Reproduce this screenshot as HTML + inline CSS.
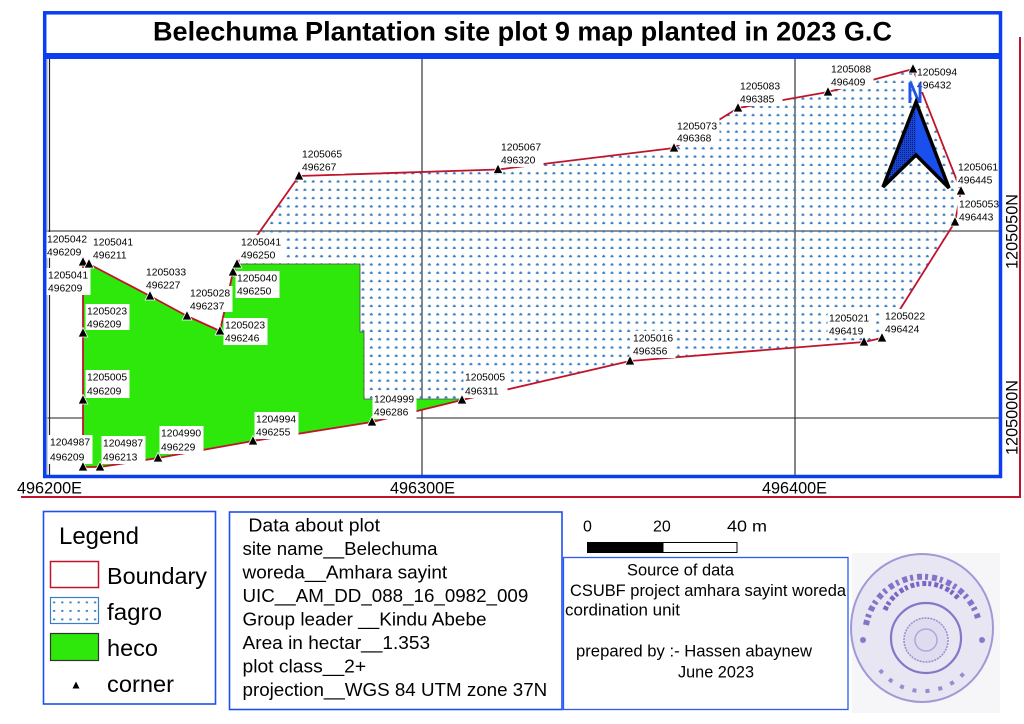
<!DOCTYPE html>
<html>
<head>
<meta charset="utf-8">
<style>
html,body{margin:0;padding:0;background:#fff;}
svg{display:block;}
text{font-family:"Liberation Sans",Arial,sans-serif;}
</style>
</head>
<body>
<svg width="1024" height="724" viewBox="0 0 1024 724" xmlns="http://www.w3.org/2000/svg">
<defs>
  <pattern id="dots" patternUnits="userSpaceOnUse" x="0" y="0" width="8.3" height="8.3">
    <rect x="4.6" y="6.7" width="3" height="1.5" fill="#3a7ec2"/>
    <rect x="5.35" y="5.95" width="1.5" height="3" fill="#3a7ec2"/>
  </pattern>
  <pattern id="ldots" patternUnits="userSpaceOnUse" x="50" y="597" width="8.2" height="8.5">
    <rect x="3" y="4.5" width="2.2" height="1.8" fill="#3a7ec2"/>
  </pattern>
  <pattern id="darkdots" patternUnits="userSpaceOnUse" width="2" height="2">
    <rect width="2" height="2" fill="#1a46d8"/>
    <rect width="1" height="1" fill="#0a1e70"/>
  </pattern>
  <clipPath id="mapclip"><rect x="46" y="59" width="953" height="417"/></clipPath>
</defs>

<!-- outer red lines -->
<line x1="1020" y1="37" x2="1020" y2="498" stroke="#c0142c" stroke-width="2"/>
<line x1="21" y1="497" x2="1021" y2="497" stroke="#c0142c" stroke-width="2"/>

<!-- title -->
<text x="153" y="40.7" font-size="26.5" font-weight="bold" textLength="739" lengthAdjust="spacingAndGlyphs">Belechuma Plantation site plot 9 map planted in 2023 G.C</text>

<!-- map content -->
<g clip-path="url(#mapclip)">
  <line x1="46" y1="231" x2="999" y2="231" stroke="#222" stroke-width="1.1"/>
  <line x1="46" y1="418" x2="999" y2="418" stroke="#222" stroke-width="1.1"/>
  <line x1="422" y1="59" x2="422" y2="476" stroke="#222" stroke-width="1.1"/>
  <line x1="795" y1="59" x2="795" y2="476" stroke="#222" stroke-width="1.1"/>
  <line x1="49.5" y1="59" x2="49.5" y2="476" stroke="#222" stroke-width="1.2"/>
  <line x1="47.2" y1="59" x2="47.2" y2="476" stroke="#bbb" stroke-width="1"/>

  <polygon fill="url(#dots)" points="83,262 89,264 150,296 187,316 220,331 233,272 237,264 299,176 498,169.5 674,148 738,108 828,92 913,69 961,191 955,222 882,338 864,342 630,361 462,400 372,422 253,441 158,458 100,467 83,467"/>

  <polygon fill="#2ee70b" stroke="#4a4a4a" stroke-width="0.8" points="89,264 150,296 187,316 220,331 233,272 237,264 360,264 360,332 364,332 364,399 460,399 462,400 372,422 253,441 158,458 100,467 83,467 83,333 83,262"/>

  <polygon fill="none" stroke="#c0142c" stroke-width="1.8" stroke-linejoin="round" points="83,262 89,264 150,296 187,316 220,331 233,272 237,264 299,176 498,169.5 674,148 738,108 828,92 913,69 961,191 955,222 882,338 864,342 630,361 462,400 372,422 253,441 158,458 100,467 83,467"/>

  <g font-size="10.3" fill="#000">
      <rect x="45.5" y="232" width="44" height="26" fill="#fff"/><text x="47" y="242.7">1205042</text><text x="47" y="255.7">496209</text>
      <rect x="91.5" y="235" width="44" height="27" fill="#fff"/><text x="93" y="245.7">1205041</text><text x="93" y="258.7">496211</text>
      <rect x="46.5" y="268" width="44" height="27" fill="#fff"/><text x="48" y="278.7">1205041</text><text x="48" y="291.7">496209</text>
      <rect x="85.5" y="304" width="44" height="26" fill="#fff"/><text x="87" y="314.7">1205023</text><text x="87" y="327.7">496209</text>
      <rect x="144.5" y="265" width="44" height="27" fill="#fff"/><text x="146" y="275.7">1205033</text><text x="146" y="288.7">496227</text>
      <rect x="188.5" y="286" width="44" height="26" fill="#fff"/><text x="190" y="296.7">1205028</text><text x="190" y="309.7">496237</text>
      <rect x="223.5" y="318" width="44" height="27" fill="#fff"/><text x="225" y="328.7">1205023</text><text x="225" y="341.7">496246</text>
      <rect x="235.5" y="271" width="44" height="27" fill="#fff"/><text x="237" y="281.7">1205040</text><text x="237" y="294.7">496250</text>
      <rect x="239.5" y="235" width="44" height="27" fill="#fff"/><text x="241" y="245.7">1205041</text><text x="241" y="258.7">496250</text>
      <rect x="300.5" y="147" width="44" height="27" fill="#fff"/><text x="302" y="157.7">1205065</text><text x="302" y="170.7">496267</text>
      <rect x="499.5" y="140" width="44" height="27" fill="#fff"/><text x="501" y="150.7">1205067</text><text x="501" y="163.7">496320</text>
      <rect x="675.5" y="119" width="44" height="26" fill="#fff"/><text x="677" y="129.7">1205073</text><text x="677" y="141.7">496368</text>
      <rect x="738.5" y="79" width="44" height="27" fill="#fff"/><text x="740" y="89.7">1205083</text><text x="740" y="102.7">496385</text>
      <rect x="829.5" y="62" width="44" height="27" fill="#fff"/><text x="831" y="72.7">1205088</text><text x="831" y="85.7">496409</text>
      <rect x="915.5" y="65" width="44" height="27" fill="#fff"/><text x="917" y="75.7">1205094</text><text x="917" y="88.7">496432</text>
      <rect x="956.5" y="160" width="44" height="27" fill="#fff"/><text x="958" y="170.7">1205061</text><text x="958" y="183.7">496445</text>
      <rect x="957.5" y="197" width="44" height="27" fill="#fff"/><text x="959" y="207.7">1205053</text><text x="959" y="220.7">496443</text>
      <rect x="883.5" y="309" width="44" height="27" fill="#fff"/><text x="885" y="319.7">1205022</text><text x="885" y="332.7">496424</text>
      <rect x="827.5" y="311" width="44" height="27" fill="#fff"/><text x="829" y="321.7">1205021</text><text x="829" y="334.7">496419</text>
      <rect x="631.5" y="331" width="44" height="27" fill="#fff"/><text x="633" y="341.7">1205016</text><text x="633" y="354.7">496356</text>
      <rect x="463.5" y="370" width="44" height="28" fill="#fff"/><text x="465" y="380.7">1205005</text><text x="465" y="394.7">496311</text>
      <rect x="372.5" y="392" width="44" height="27" fill="#fff"/><text x="374" y="402.7">1204999</text><text x="374" y="415.7">496286</text>
      <rect x="254.5" y="412" width="44" height="27" fill="#fff"/><text x="256" y="422.7">1204994</text><text x="256" y="435.7">496255</text>
      <rect x="159.5" y="426" width="44" height="28" fill="#fff"/><text x="161" y="436.7">1204990</text><text x="161" y="450.7">496229</text>
      <rect x="101.5" y="436" width="44" height="28" fill="#fff"/><text x="103" y="446.7">1204987</text><text x="103" y="460.7">496213</text>
      <rect x="48.5" y="435" width="44" height="29" fill="#fff"/><text x="50" y="445.7">1204987</text><text x="50" y="460.7">496209</text>
      <rect x="85.5" y="370" width="44" height="28" fill="#fff"/><text x="87" y="380.7">1205005</text><text x="87" y="394.7">496209</text>
  </g>

  <g fill="#000" stroke="#fff" stroke-width="0.8">
    <path d="M83,256.5 L78.2,266 L87.8,266 Z"/>
    <path d="M89,258.5 L84.2,268 L93.8,268 Z"/>
    <path d="M150,290.5 L145.2,300 L154.8,300 Z"/>
    <path d="M187,310.5 L182.2,320 L191.8,320 Z"/>
    <path d="M220,325.5 L215.2,335 L224.8,335 Z"/>
    <path d="M233,266.5 L228.2,276 L237.8,276 Z"/>
    <path d="M237,258.5 L232.2,268 L241.8,268 Z"/>
    <path d="M299,170.5 L294.2,180 L303.8,180 Z"/>
    <path d="M498,164 L493.2,173.5 L502.8,173.5 Z"/>
    <path d="M674,142.5 L669.2,152 L678.8,152 Z"/>
    <path d="M738,102.5 L733.2,112 L742.8,112 Z"/>
    <path d="M828,86.5 L823.2,96 L832.8,96 Z"/>
    <path d="M913,63.5 L908.2,73 L917.8,73 Z"/>
    <path d="M961,185.5 L956.2,195 L965.8,195 Z"/>
    <path d="M955,216.5 L950.2,226 L959.8,226 Z"/>
    <path d="M882,332.5 L877.2,342 L886.8,342 Z"/>
    <path d="M864,336.5 L859.2,346 L868.8,346 Z"/>
    <path d="M630,355.5 L625.2,365 L634.8,365 Z"/>
    <path d="M462,394.5 L457.2,404 L466.8,404 Z"/>
    <path d="M372,416.5 L367.2,426 L376.8,426 Z"/>
    <path d="M253,435.5 L248.2,445 L257.8,445 Z"/>
    <path d="M158,452.5 L153.2,462 L162.8,462 Z"/>
    <path d="M100,461.5 L95.2,471 L104.8,471 Z"/>
    <path d="M83,461.5 L78.2,471 L87.8,471 Z"/>
    <path d="M83,394.5 L78.2,404 L87.8,404 Z"/>
    <path d="M83,327.5 L78.2,337 L87.8,337 Z"/>
  </g>

  <text x="907" y="103" font-size="30" font-weight="bold" fill="#1f55e8" textLength="16" lengthAdjust="spacingAndGlyphs">N</text>
  <polygon points="916,102 883,187 916,155" fill="url(#darkdots)"/>
  <polygon points="916,102 949,188 916,155" fill="#1a4fee"/>
  <polygon points="916,102 949,188 916,155 883,187" fill="none" stroke="#000" stroke-width="3.5" stroke-linejoin="miter"/>
</g>

<rect x="44.7" y="12.8" width="955.8" height="463.7" fill="none" stroke="#0b3df2" stroke-width="3.5"/>
<rect x="43" y="53" width="959" height="6" fill="#0b3df2"/>

<g font-size="16.2" fill="#000">
  <text x="17" y="493.3" textLength="65" lengthAdjust="spacingAndGlyphs">496200E</text>
  <text x="390" y="493.3" textLength="65" lengthAdjust="spacingAndGlyphs">496300E</text>
  <text x="762" y="493.3" textLength="65" lengthAdjust="spacingAndGlyphs">496400E</text>
  <text transform="translate(1017.5,269) rotate(-90)" textLength="75" lengthAdjust="spacingAndGlyphs">1205050N</text>
  <text transform="translate(1017.5,455) rotate(-90)" textLength="75" lengthAdjust="spacingAndGlyphs">1205000N</text>
</g>

<rect x="43.5" y="511.5" width="172" height="192.5" fill="#fff" stroke="#1f4ff0" stroke-width="1.6"/>
<text x="59" y="544" font-size="24.5" textLength="80" lengthAdjust="spacingAndGlyphs">Legend</text>
<rect x="50.5" y="561.5" width="48" height="26" fill="#fff" stroke="#c0142c" stroke-width="1.5"/>
<text x="107" y="584" font-size="23" textLength="100" lengthAdjust="spacingAndGlyphs">Boundary</text>
<rect x="50.5" y="597.5" width="48" height="26" fill="url(#ldots)" stroke="#3b7dc0" stroke-width="1.2"/>
<text x="107" y="620" font-size="23" textLength="55" lengthAdjust="spacingAndGlyphs">fagro</text>
<rect x="50.5" y="633.5" width="48" height="27" fill="#2ee70b" stroke="#333" stroke-width="1.2"/>
<text x="107" y="656" font-size="23" textLength="51" lengthAdjust="spacingAndGlyphs">heco</text>
<path d="M76,681.5 L72.5,688.5 L79.5,688.5 Z" fill="#000"/>
<text x="107" y="692" font-size="23" textLength="67" lengthAdjust="spacingAndGlyphs">corner</text>

<rect x="229.5" y="512" width="332.5" height="197.5" fill="#fff" stroke="#1f4ff0" stroke-width="1.6"/>
<g font-size="18.5" fill="#000">
  <text x="248.4" y="531.7" textLength="131.6" lengthAdjust="spacingAndGlyphs">Data about plot</text>
  <text x="242.5" y="555.2" textLength="195" lengthAdjust="spacingAndGlyphs">site name__Belechuma</text>
  <text x="242.5" y="578.7" textLength="204.7" lengthAdjust="spacingAndGlyphs">woreda__Amhara sayint</text>
  <text x="242.5" y="602.2" textLength="285.8" lengthAdjust="spacingAndGlyphs">UIC__AM_DD_088_16_0982_009</text>
  <text x="242.5" y="625.7" textLength="244" lengthAdjust="spacingAndGlyphs">Group leader __Kindu Abebe</text>
  <text x="242.5" y="649.2" textLength="187.6" lengthAdjust="spacingAndGlyphs">Area in hectar__1.353</text>
  <text x="242.5" y="672.7" textLength="123.6" lengthAdjust="spacingAndGlyphs">plot class__2+</text>
  <text x="242.5" y="696.2" textLength="304.7" lengthAdjust="spacingAndGlyphs">projection__WGS 84 UTM zone 37N</text>
</g>

<g font-size="16" fill="#000">
  <text x="583" y="531.7">0</text>
  <text x="653" y="531.7">20</text>
  <text x="727" y="531.7" textLength="40" lengthAdjust="spacingAndGlyphs">40 m</text>
</g>
<rect x="587" y="542" width="76" height="11" fill="#000"/>
<rect x="663" y="542.5" width="74" height="10" fill="#fff" stroke="#000" stroke-width="1"/>

<rect x="563.5" y="557.5" width="284.5" height="152" fill="#fff" stroke="#2a5cf5" stroke-width="1.3"/>
<g font-size="16.5" fill="#000">
  <text x="627" y="575.7" textLength="107" lengthAdjust="spacingAndGlyphs">Source of data</text>
  <text x="570" y="596" textLength="276" lengthAdjust="spacingAndGlyphs">CSUBF project amhara sayint woreda</text>
  <text x="565" y="615.7" textLength="115" lengthAdjust="spacingAndGlyphs">cordination unit</text>
  <text x="576" y="656.7" textLength="236" lengthAdjust="spacingAndGlyphs">prepared by :- Hassen abaynew</text>
  <text x="678" y="677.3" textLength="76" lengthAdjust="spacingAndGlyphs">June 2023</text>
</g>

<rect x="852" y="553" width="148" height="160" fill="#f6f6f8"/>
<ellipse cx="922" cy="628" rx="71" ry="74" fill="#e8e6f3" stroke="#a398d6" stroke-width="2"/>
<path d="M866,625 A58,60 0 0 1 978,618" fill="none" stroke="#8573c8" stroke-width="6" stroke-dasharray="5 3 3 4"/>
<path d="M885,610 A44,44 0 0 1 958,598" fill="none" stroke="#7a66c2" stroke-width="5" stroke-dasharray="4 2 3 3"/>
<circle cx="926" cy="638" r="35" fill="none" stroke="#8676c8" stroke-width="2.2"/>
<circle cx="926" cy="640" r="22" fill="#e0dcef" stroke="#9d90d2" stroke-width="1.6" stroke-dasharray="2 1"/>
<circle cx="926" cy="640" r="11" fill="none" stroke="#b0a6dc" stroke-width="1.5"/>
<path d="M880,670 A55,55 0 0 0 965,672" fill="none" stroke="#9a8cd0" stroke-width="4" stroke-dasharray="4 9"/>
<circle cx="863" cy="640" r="3" fill="#8a7ac8"/>
<circle cx="982" cy="640" r="3" fill="#8a7ac8"/>

</svg>
</body>
</html>
